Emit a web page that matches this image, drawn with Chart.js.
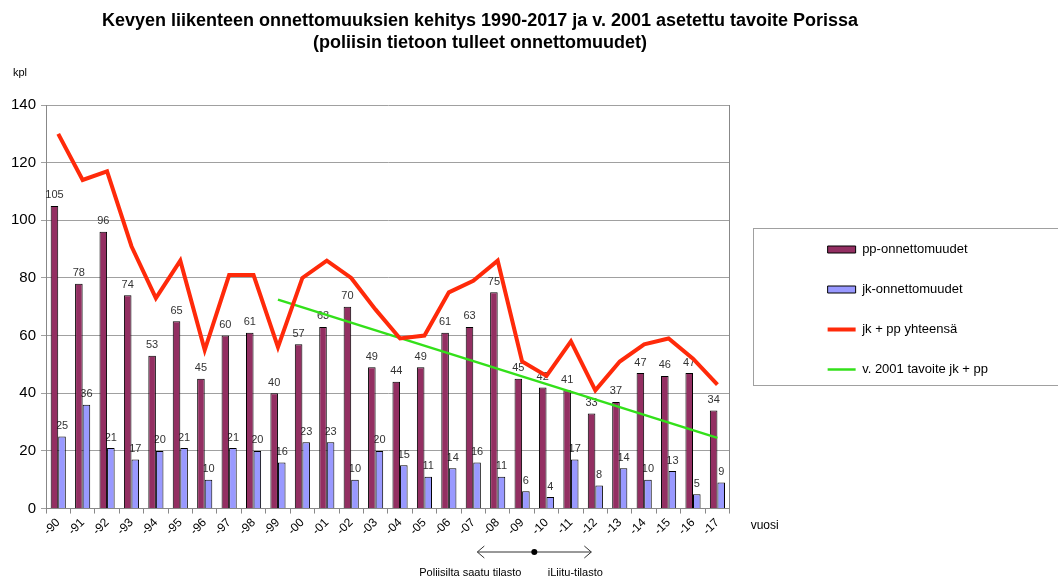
<!DOCTYPE html>
<html>
<head>
<meta charset="utf-8">
<script src="https://cdn.jsdelivr.net/npm/chart.js@4/dist/chart.umd.min.js"></script>
<style>
  body { margin: 0; background: #fff; }
  #wrap { width: 1058px; height: 578px; }
</style>
</head>
<body>
<div id="wrap"><canvas id="myChart" width="1058" height="578"></canvas></div>
<script>
const vuodet = ['-90', '-91', '-92', '-93', '-94', '-95', '-96', '-97', '-98', '-99',
    '-00', '-01', '-02', '-03', '-04', '-05', '-06', '-07', '-08', '-09',
    '-10', '-11', '-12', '-13', '-14', '-15', '-16', '-17'];
const pp = [105, 78, 96, 74, 53, 65, 45, 60, 61, 40,
    57, 63, 70, 49, 44, 49, 61, 63, 75, 45,
    42, 41, 33, 37, 47, 46, 47, 34];
const jk = [25, 36, 21, 17, 20, 21, 10, 21, 20, 16,
    23, 23, 10, 20, 15, 11, 14, 16, 11, 6,
    4, 17, 8, 14, 10, 13, 5, 9];
const yhteensa = [130, 114, 117, 91, 73, 86, 55, 81, 81, 56,
    80, 86, 80, 69, 59, 60, 75, 79, 86, 51,
    46, 58, 41, 51, 57, 59, 52, 43];
// tavoiteviiva: vain alku- ja loppupiste, viiva piirretään niiden välille
const tavoite = [null, null, null, null, null, null, null, null, null, 72.5,
    null, null, null, null, null, null, null, null, null, null,
    null, null, null, null, null, null, null, 24.5];

const otsikko = [
    'Kevyen liikenteen onnettomuuksien kehitys 1990-2017 ja v. 2001 asetettu tavoite Porissa',
    '(poliisin tietoon tulleet onnettomuudet)'
];

// arvot pylväiden päälle
const arvoLabelit = {
    id: 'arvoLabelit',
    afterDatasetDraw(chart, args) {
        if (args.meta.type !== 'bar') return;
        const ctx = chart.ctx;
        const ds = chart.data.datasets[args.index];
        ctx.save();
        ctx.font = '11px "Liberation Sans", Arial, sans-serif';
        ctx.fillStyle = '#333';
        ctx.textAlign = 'center';
        ctx.textBaseline = 'bottom';
        args.meta.data.forEach((bar, i) => {
            ctx.fillText(ds.data[i], bar.x, bar.y - 5);
        });
        ctx.restore();
    }
};

// selite hieman ylemmäs, kuten alkuperäisessä
const selitteenSiirto = {
    id: 'selitteenSiirto',
    afterLayout(chart) {
        const lg = chart.legend;
        lg.top -= 13;
        lg.bottom -= 13;
        (lg.legendHitBoxes || []).forEach(h => { h.top -= 13; });
    }
};

// selitteen kehys
const selitteenKehys = {
    id: 'selitteenKehys',
    afterDraw(chart) {
        const lg = chart.legend;
        const boxes = lg.legendHitBoxes;
        if (!boxes || !boxes.length) return;
        const ctx = chart.ctx;
        const last = boxes[boxes.length - 1];
        const top = Math.round(boxes[0].top - 15);
        const bottom = Math.round(last.top + last.height + 9);
        ctx.save();
        ctx.strokeStyle = '#a0a0a0';
        ctx.lineWidth = 1;
        ctx.strokeRect(Math.round(boxes[0].left) - 74.5, top + 0.5, 400, bottom - top);
        ctx.restore();
    }
};

// otsikko, akselien nimet ja tilastolähteen merkintä
const tekstit = {
    id: 'tekstit',
    afterDraw(chart) {
        const ctx = chart.ctx;
        const area = chart.chartArea;
        const x = chart.scales.x;
        ctx.save();
        ctx.fillStyle = '#000';
        ctx.textAlign = 'center';
        ctx.textBaseline = 'middle';
        ctx.font = 'bold 18px "Liberation Sans", Arial, sans-serif';
        ctx.fillText(otsikko[0], 480, 21);
        ctx.fillText(otsikko[1], 480, 43);

        ctx.font = '11px "Liberation Sans", Arial, sans-serif';
        ctx.fillText('kpl', 20, 73);
        ctx.textAlign = 'left';
        ctx.font = '12px "Liberation Sans", Arial, sans-serif';
        ctx.fillText('vuosi', area.right + 21, area.bottom + 17);

        // nuoli -09 ja -10 välissä
        const raja = (x.getPixelForValue(19) + x.getPixelForValue(20)) / 2;
        const y = 552;
        ctx.strokeStyle = '#333';
        ctx.lineWidth = 1;
        ctx.beginPath();
        ctx.moveTo(raja - 57, y);
        ctx.lineTo(raja + 57, y);
        ctx.moveTo(raja - 50, y - 6);
        ctx.lineTo(raja - 57, y);
        ctx.lineTo(raja - 50, y + 6);
        ctx.moveTo(raja + 50, y - 6);
        ctx.lineTo(raja + 57, y);
        ctx.lineTo(raja + 50, y + 6);
        ctx.stroke();
        ctx.beginPath();
        ctx.arc(raja, y, 3, 0, Math.PI * 2);
        ctx.fill();

        ctx.textAlign = 'center';
        ctx.font = '11px "Liberation Sans", Arial, sans-serif';
        ctx.fillText('Poliisilta saatu tilasto', raja - 64, 573);
        ctx.fillText('iLiitu-tilasto', raja + 41, 573);
        ctx.restore();
    }
};

const data = {
    labels: vuodet,
    datasets: [{
        type: 'bar',
        label: 'pp-onnettomuudet',
        data: pp,
        backgroundColor: '#932f62',
        borderColor: '#000',
        borderWidth: 1,
        pointStyle: 'rect',
        order: 2
    }, {
        type: 'bar',
        label: 'jk-onnettomuudet',
        data: jk,
        backgroundColor: '#9999ff',
        borderColor: '#000',
        borderWidth: 1,
        pointStyle: 'rect',
        order: 2
    }, {
        type: 'line',
        label: 'jk + pp yhteensä',
        data: yhteensa,
        borderColor: '#ff2a0a',
        backgroundColor: '#ff2a0a',
        borderWidth: 4,
        pointRadius: 0,
        pointBorderWidth: 4,
        pointBorderColor: '#ff2a0a',
        pointStyle: 'line',
        tension: 0,
        order: 1
    }, {
        type: 'line',
        label: 'v. 2001 tavoite jk + pp',
        data: tavoite,
        borderColor: '#33e01a',
        backgroundColor: '#33e01a',
        borderWidth: 2.5,
        pointRadius: 0,
        pointBorderWidth: 2.5,
        pointBorderColor: '#33e01a',
        pointStyle: 'line',
        spanGaps: true,
        order: 1
    }]
};

const config = {
    type: 'bar',
    data: data,
    options: {
        responsive: false,
        animation: false,
        events: [],
        categoryPercentage: 0.62,
        barPercentage: 1,
        layout: {
            padding: { top: 105, left: 6, right: 60, bottom: 38 }
        },
        plugins: {
            title: { display: false },
            tooltip: { enabled: false },
            legend: {
                position: 'right',
                align: 'center',
                maxWidth: 320,
                labels: {
                    usePointStyle: true,
                    pointStyleWidth: 28,
                    boxHeight: 7,
                    padding: 27,
                    color: '#000',
                    sort: (a, b) => a.datasetIndex - b.datasetIndex,
                    font: { size: 13, family: '"Liberation Sans", Arial, sans-serif' }
                }
            }
        },
        scales: {
            x: {
                offset: true,
                grid: {
                    drawOnChartArea: false,
                    drawTicks: true,
                    tickLength: 5,
                    color: '#888',
                    offset: true
                },
                border: { color: '#888' },
                ticks: {
                    autoSkip: false,
                    minRotation: 45,
                    maxRotation: 45,
                    padding: 2,
                    color: '#000',
                    font: { size: 12, family: '"Liberation Sans", Arial, sans-serif' }
                }
            },
            y: {
                min: 0,
                max: 140,
                ticks: {
                    stepSize: 20,
                    padding: 5,
                    color: '#000',
                    font: { size: 15, family: '"Liberation Sans", Arial, sans-serif' }
                },
                grid: { color: '#a0a0a0', tickLength: 5 },
                border: { color: '#888' }
            },
            y2: {
                position: 'right',
                min: 0,
                max: 140,
                ticks: { display: false },
                grid: { drawOnChartArea: false, drawTicks: false },
                border: { color: '#888' },
                afterFit(scale) { scale.width = 71; }
            }
        }
    },
    plugins: [arvoLabelit, selitteenSiirto, selitteenKehys, tekstit]
};

var myChart = new Chart(
    document.getElementById('myChart'),
    config
);
</script>
</body>
</html>
